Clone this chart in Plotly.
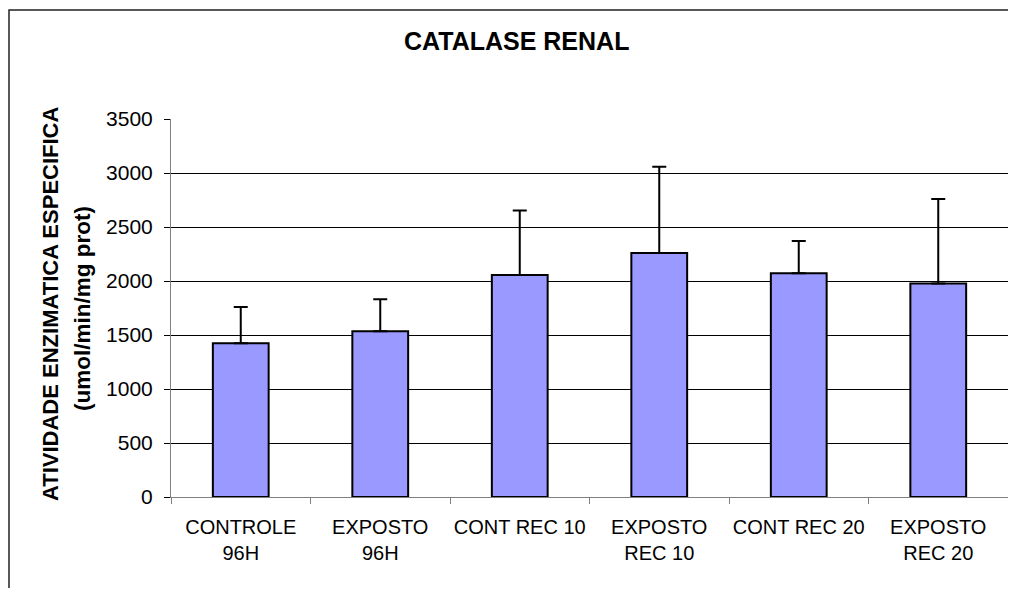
import plotly.graph_objects as go

# data
categories = ["CONTROLE<br>96H", "EXPOSTO<br>96H", "CONT REC 10",
              "EXPOSTO<br>REC 10", "CONT REC 20", "EXPOSTO<br>REC 20"]
activity = [1424, 1535, 2055, 2260, 2072, 1977]
error_plus = [336, 296, 597, 799, 298, 783]
y_ticks = [0, 500, 1000, 1500, 2000, 2500, 3000, 3500]

FONT = "Arial, Liberation Sans, sans-serif"

# figure is 1000 wide so that the page (with body margin 8px) fits the window
W, H = 1000, 580
L, R, T, B = 163, 0, 111, 91
OFF = 8  # body margin, screen px -> figure px


def px_x(x):
    return (x - OFF - L) / (W - L - R)


def px_y(y):
    return (H - B - (y - OFF)) / (H - T - B)


fig = go.Figure()
fig.add_trace(go.Bar(
    x=categories,
    y=activity,
    marker=dict(color="#9999FF", line=dict(color="black", width=2)),
    error_y=dict(type="data", array=error_plus, symmetric=False, arrayminus=[0] * len(activity),
                 color="black", thickness=2, width=7),
))

fig.update_layout(
    width=W,
    height=H,
    margin=dict(l=L, r=R, t=T, b=B),
    paper_bgcolor="white",
    plot_bgcolor="white",
    showlegend=False,
    bargap=0.6,
    font=dict(family=FONT, color="black"),
    title=dict(text="<b>CATALASE RENAL</b>", x=(516.7 - OFF) / W, xanchor="center",
               y=1 - (41.7 - OFF) / H, yanchor="middle", font=dict(size=25, family=FONT)),
    xaxis=dict(
        showline=True, linecolor="#808080", linewidth=1,
        ticks="outside", tickson="boundaries", ticklen=6, tickcolor="#808080",
        tickfont=dict(size=20), tickangle=0, ticklabelstandoff=12, showgrid=False,
    ),
    yaxis=dict(
        range=[0, 3500], tickvals=y_ticks,
        showline=True, linecolor="#808080", linewidth=1,
        ticks="outside", ticklen=6, tickcolor="black",
        tickfont=dict(size=21), ticklabelstandoff=7,
        showgrid=True, gridcolor="black", gridwidth=1, zeroline=False,
    ),
)

# two-line y axis title, placed as the original
fig.add_annotation(text="<b>ATIVIDADE ENZIMATICA ESPECIFICA</b>", textangle=-90,
                   xref="paper", yref="paper", x=px_x(50), y=px_y(304),
                   xanchor="center", yanchor="middle", showarrow=False,
                   font=dict(size=22, family=FONT))
fig.add_annotation(text="<b>(umol/min/mg prot)</b>", textangle=-90,
                   xref="paper", yref="paper", x=px_x(82), y=px_y(309),
                   xanchor="center", yanchor="middle", showarrow=False,
                   font=dict(size=22.5, family=FONT))

# outer chart frame
fig.add_shape(type="rect", xref="paper", yref="paper",
              x0=px_x(9), x1=px_x(1040), y0=px_y(640), y1=px_y(10),
              line=dict(color="#222222", width=1.5), layer="above")

fig.write_html("out.html")
